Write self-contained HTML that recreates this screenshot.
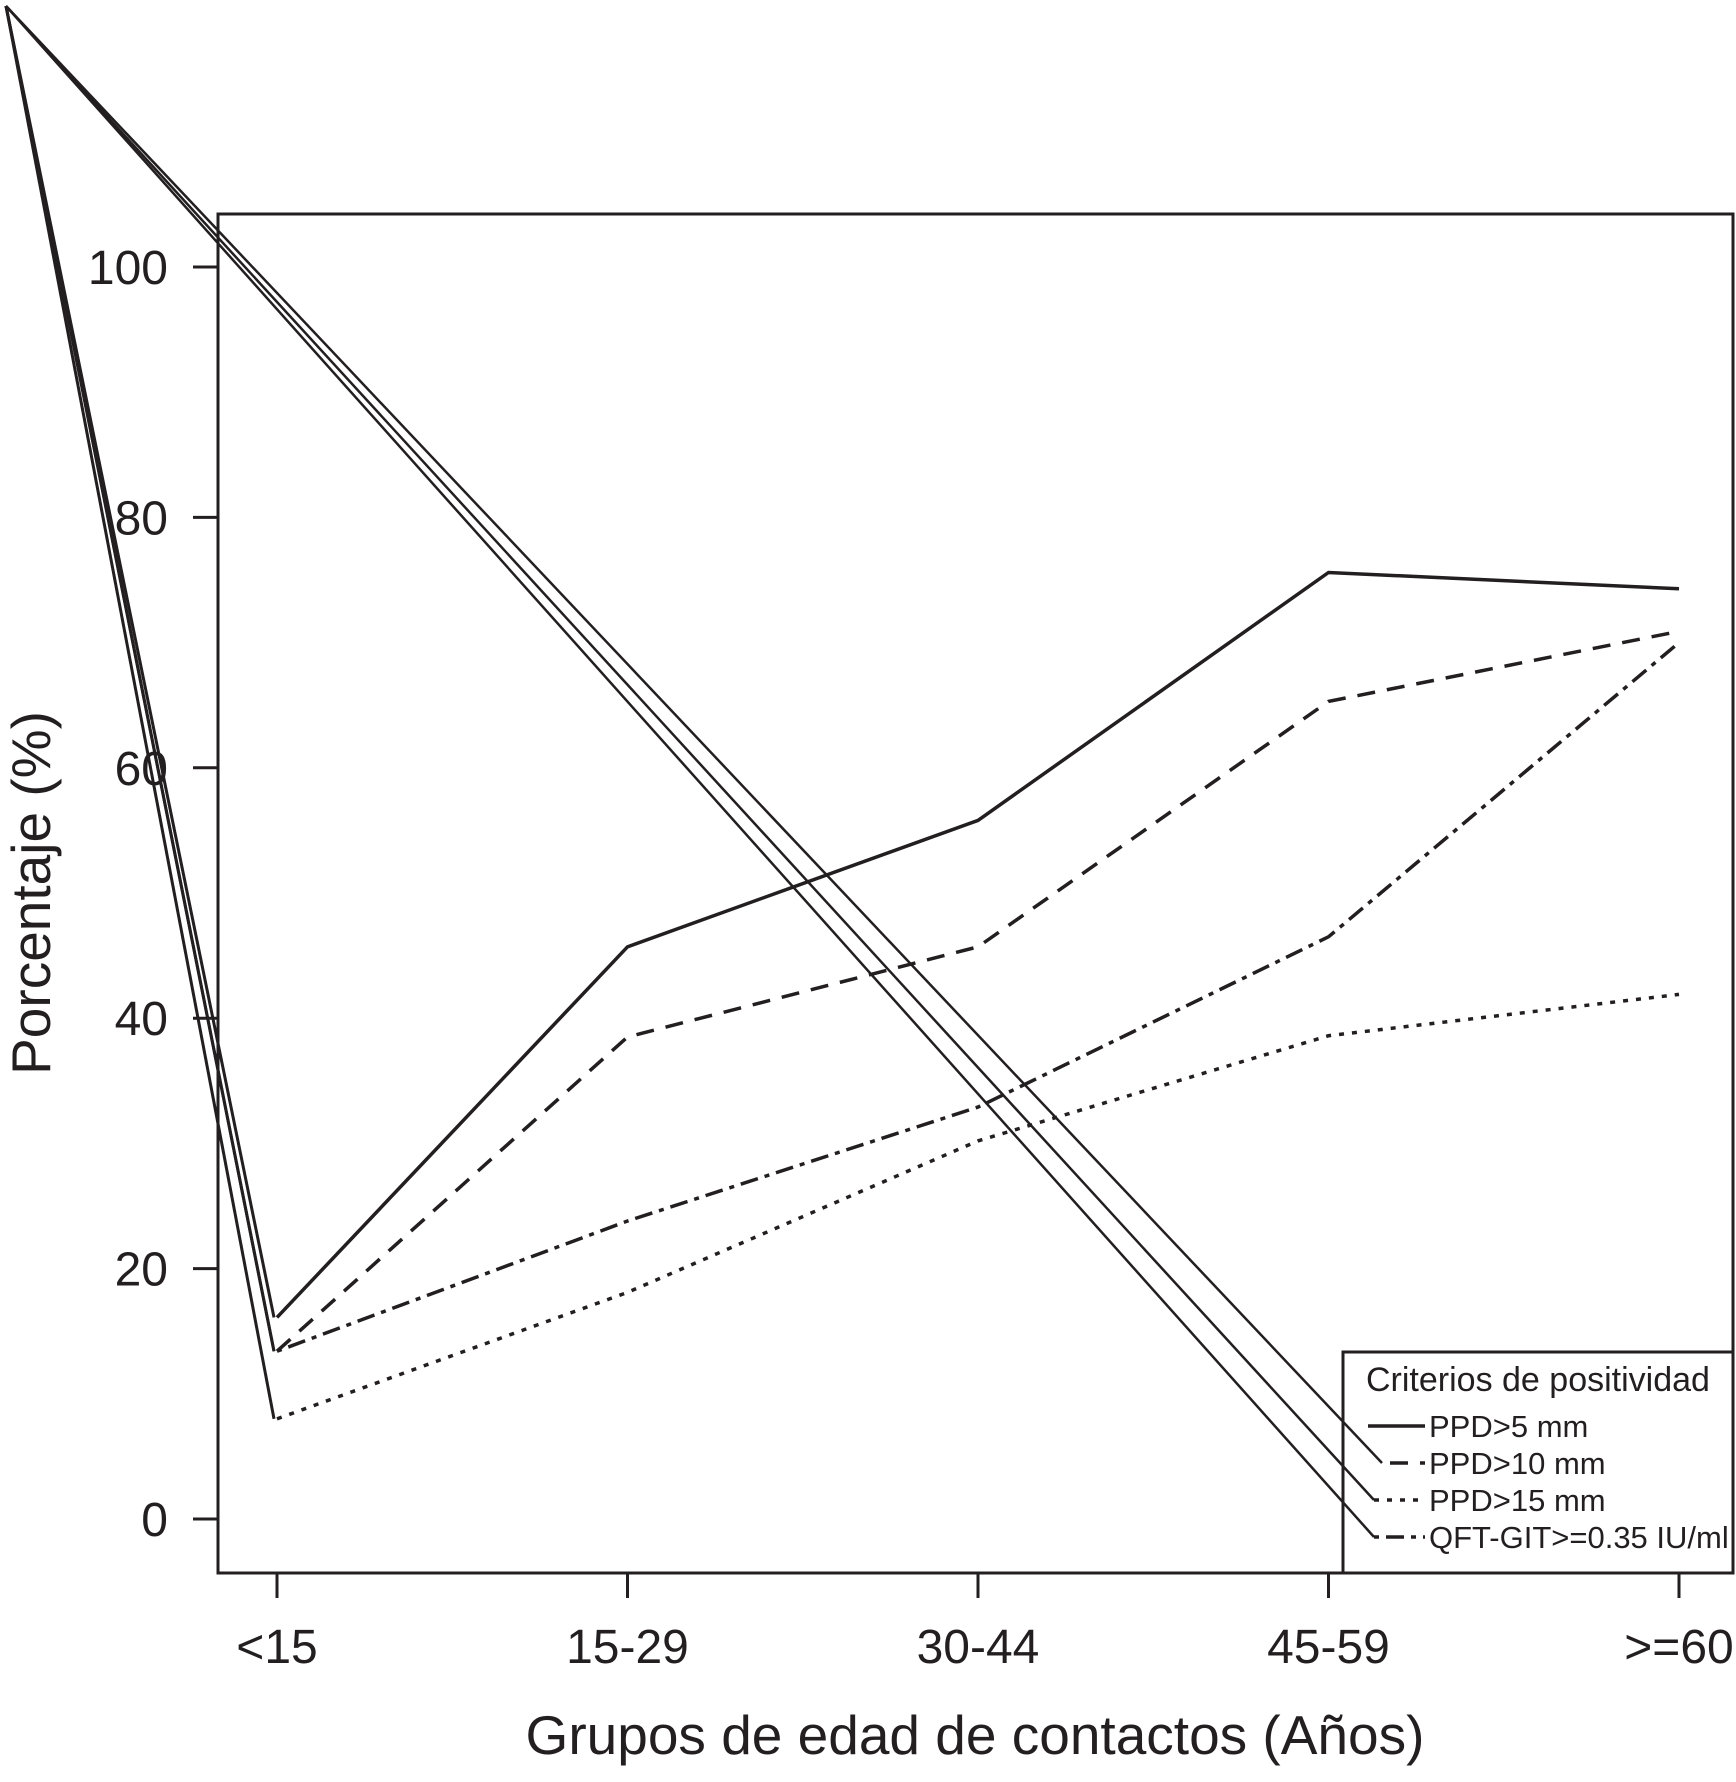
<!DOCTYPE html>
<html><head><meta charset="utf-8"><style>
html,body{margin:0;padding:0;background:#fff;}
svg{display:block;}
text{font-family:"Liberation Sans",Arial,sans-serif;fill:#231f20;}
</style></head><body>
<svg id="chart" width="1736" height="1782" viewBox="0 0 1736 1782" xmlns="http://www.w3.org/2000/svg">
<g id="marks"></g>
<g id="axes"></g>
<g id="leaders"></g>
</svg>
<script>
const categories = ["<15","15-29","30-44","45-59",">=60"];
const yTicks = [0,20,40,60,80,100];
const seriesNames = ["PPD>5 mm","PPD>10 mm","PPD>15 mm","QFT-GIT>=0.35 IU/ml"];
const ppd5 = [16.1,45.7,55.8,75.6,74.3];
const ppd10 = [13.4,38.5,45.7,65.3,70.9];
const ppd15 = [8.0,18.1,30.2,38.6,41.9];
const qft = [13.4,23.8,32.9,46.5,70.0];
const dashes = ["", "18,12", "5,8", "5,7,18,7"];
const seriesData = [ppd5, ppd10, ppd15, qft];

const NS = "http://www.w3.org/2000/svg";
const marks = document.getElementById('marks');
const axes = document.getElementById('axes');
const leaders = document.getElementById('leaders');
function xs(i){ return 277 + i*350.5; }
function ys(v){ return 1519 - v*12.52; }
function mk(tag, attrs, parent){
  const e = document.createElementNS(NS, tag);
  for (const k in attrs) e.setAttribute(k, attrs[k]);
  parent.appendChild(e); return e;
}
const stroke = "#231f20";
const frame = mk('rect', {x:218, y:214, width:1515, height:1359, fill:'none', stroke:stroke, 'stroke-width':3}, axes);


yTicks.forEach(v => {
  const t = mk('line', {x1:193, x2:218, y1:ys(v), y2:ys(v), stroke:stroke, 'stroke-width':3}, axes);
  
  
  const l = mk('text', {x:168, y:ys(v)+17, 'font-size':48, 'text-anchor':'end'}, axes);
  l.textContent = v;
  
  
});
categories.forEach((c,i) => {
  const t = mk('line', {x1:xs(i), x2:xs(i), y1:1573, y2:1598, stroke:stroke, 'stroke-width':3}, axes);
  
  
  const l = mk('text', {x:xs(i), y:1663, 'font-size':48, 'text-anchor':'middle'}, axes);
  l.textContent = c;
  
  
});
const xt = mk('text', {x:975, y:1754, 'font-size':55, 'text-anchor':'middle'}, axes);
xt.textContent = "Grupos de edad de contactos (Años)";


const yt = mk('text', {x:0, y:0, 'font-size':55, 'text-anchor':'middle', transform:'translate(50,893) rotate(-90)'}, axes);
yt.textContent = "Porcentaje (%)";



const lg = mk('g', {}, axes);


mk('rect', {x:1343, y:1352, width:390, height:221, fill:'#fff', stroke:stroke, 'stroke-width':3}, lg);
const lt = mk('text', {x:1366, y:1391, 'font-size':34}, lg);
lt.textContent = "Criterios de positividad";


const legY = [1426, 1463, 1500, 1537];
const legX1 = [1368, 1390, 1374, 1374];
const apex = [6, 6];
seriesNames.forEach((n,i) => {
  const s = mk('line', {x1:legX1[i], x2:1425, y1:legY[i], y2:legY[i], stroke:stroke, 'stroke-width':3.5, 'stroke-dasharray':dashes[i]||'none'}, lg);
  
  
  const t = mk('text', {x:1429, y:legY[i]+11, 'font-size':31}, lg);
  t.textContent = n;
  
  
  if (i > 0) {
    const a = mk('line', {x1:apex[0], y1:apex[1], x2:[0,1382,1374,1374][i], y2:legY[i], stroke:stroke, 'stroke-width':2.5}, leaders);
    
    
  }
});

seriesData.forEach((arr, si) => {
  const pts = arr.map((v,i) => xs(i)+','+ys(v)).join(' ');
  const a = mk('line', {x1:apex[0], y1:apex[1], x2:xs(0)-3, y2:ys(arr[0]), stroke:stroke, 'stroke-width':3}, marks);
  
  
  const p = mk('polyline', {points:pts, fill:'none', stroke:stroke, 'stroke-width':3.5, 'stroke-dasharray':dashes[si]||'none'}, marks);
  
  
});
</script>
</body></html>
